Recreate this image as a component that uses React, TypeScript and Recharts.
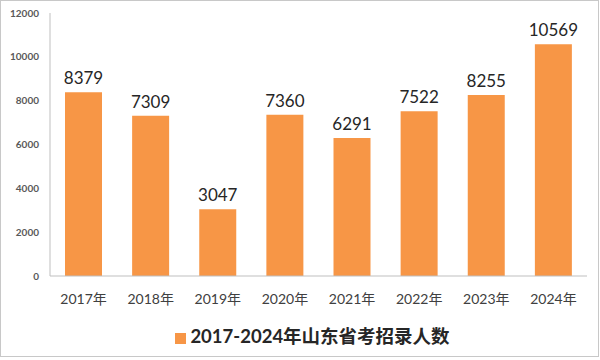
import { BarChart, Bar, XAxis, YAxis, Legend, LabelList } from 'recharts';

const years = ['2017年', '2018年', '2019年', '2020年', '2021年', '2022年', '2023年', '2024年'];
const admitted = [8379, 7309, 3047, 7360, 6291, 7522, 8255, 10569];
const yTicks = [0, 2000, 4000, 6000, 8000, 10000, 12000];

const seriesName = '2017-2024年山东省考招录人数';

const data = years.map((year, i) => ({ year, value: admitted[i] }));

const FONT = "Lato, 'Noto Sans CJK SC', sans-serif";

export default function App() {
  return (
    <div
      style={{
        position: 'fixed',
        left: 0,
        top: 0,
        width: 600,
        height: 360,
        background: '#fff',
        fontFamily: FONT,
      }}
    >
      <div
        style={{
          position: 'absolute',
          left: 0,
          top: 0,
          width: 597,
          height: 355,
          border: '1px solid #c8c8c8',
        }}
      />
      <BarChart
        width={600}
        height={360}
        data={data}
        margin={{ top: 13, right: 13, bottom: 0, left: 0 }}
      >
        <XAxis
          dataKey="year"
          axisLine={{ stroke: '#bfbfbf' }}
          tickLine={false}
          tickSize={0}
          tickMargin={18}
          height={46}
          interval={0}
          tick={{ fontSize: 14, fill: '#404040', fontFamily: FONT }}
        />
        <YAxis
          domain={[0, 12000]}
          ticks={yTicks}
          width={50}
          axisLine={{ stroke: '#bfbfbf' }}
          tickLine={false}
          tickSize={0}
          tickMargin={11}
          tick={{ fontSize: 10, fill: '#595959', fontFamily: FONT, fontWeight: 'bold' }}
        />
        <Legend
          verticalAlign="bottom"
          height={38}
          iconType="square"
          iconSize={11}
          wrapperStyle={{ paddingTop: 0, paddingLeft: 24 }}
          formatter={(v) => (
            <span style={{ color: '#262626', fontWeight: 'bold', fontSize: 18.5, fontFamily: FONT }}>{v}</span>
          )}
        />
        <Bar dataKey="value" name={seriesName} fill="#F79646" barSize={37} isAnimationActive={false}>
          <LabelList
            dataKey="value"
            position="top"
            offset={8}
            style={{ fontSize: 17, fill: '#262626', fontFamily: FONT }}
          />
        </Bar>
      </BarChart>
    </div>
  );
}
